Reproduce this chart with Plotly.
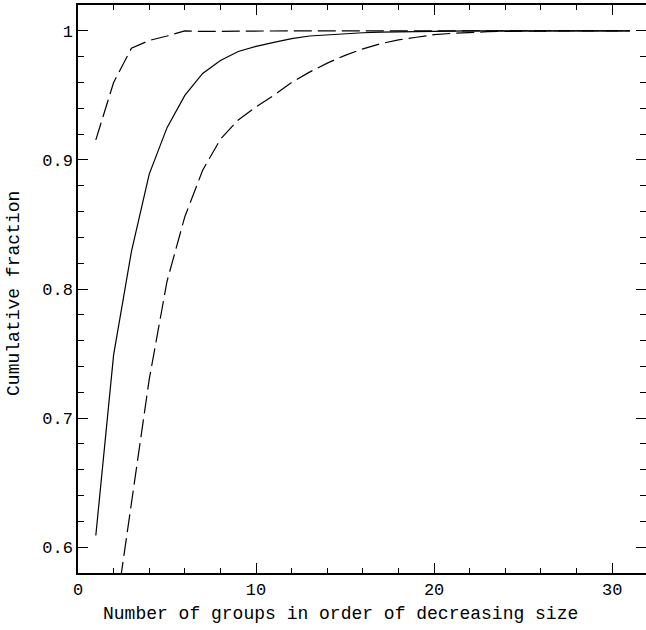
import plotly.graph_objects as go

groups = list(range(1, 32))

solid_frac = [0.609, 0.749, 0.829, 0.889, 0.925, 0.950, 0.967, 0.977, 0.984, 0.988,
              0.991, 0.994, 0.996, 0.997, 0.998, 0.9985, 0.999, 0.9993, 0.9995, 0.9997,
              0.9998, 0.9999, 0.9999, 1.0, 1.0, 1.0, 1.0, 1.0, 1.0, 1.0, 1.0]

upper_frac = [0.9155, 0.960, 0.9865, 0.9925, 0.996, 1.0, 0.9995, 0.9997, 1.0, 1.0,
              1.0, 1.0, 1.0, 1.0, 1.0, 1.0, 1.0, 1.0, 1.0, 1.0,
              1.0, 1.0, 1.0, 1.0, 1.0, 1.0, 1.0, 1.0, 1.0, 1.0, 1.0]

lower_groups = list(range(2, 32))
lower_frac = [0.538, 0.634, 0.730, 0.806, 0.856, 0.892, 0.916, 0.931, 0.941,
              0.950, 0.960, 0.968, 0.975, 0.981, 0.986, 0.990, 0.993, 0.995, 0.997,
              0.998, 0.9988, 0.9993, 0.9996, 0.9998, 1.0, 1.0, 1.0, 1.0, 1.0, 1.0]

y_ticks = [0.6, 0.7, 0.8, 0.9, 1.0]
y_labels = ["0.6", "0.7", "0.8", "0.9", "1"]
x_ticks = [0, 10, 20, 30]
x_labels = ["0", "10", "20", "30"]

x_title = "Number of groups in order of decreasing size"
y_title = "Cumulative fraction"

font_family = "Liberation Mono"

fig = go.Figure()
fig.add_trace(go.Scatter(x=groups, y=solid_frac, mode="lines",
                         line=dict(color="black", width=1.2), showlegend=False))
fig.add_trace(go.Scatter(x=groups, y=upper_frac, mode="lines",
                         line=dict(color="black", width=1.2, dash="18px,6px"), showlegend=False))
fig.add_trace(go.Scatter(x=lower_groups, y=lower_frac, mode="lines",
                         line=dict(color="black", width=1.2, dash="18px,6px"), showlegend=False))

axis_common = dict(showgrid=False, zeroline=False, showline=True, linecolor="black",
                   linewidth=1.5, mirror="allticks", ticks="inside", tickcolor="black",
                   tickwidth=1, ticklen=10, automargin=False,
                   tickfont=dict(family=font_family, size=17, color="black"))

fig.update_xaxes(range=[0, 31.9], tickvals=x_ticks, ticktext=x_labels,
                 minor=dict(dtick=2, tick0=0, ticks="inside", ticklen=5, tickcolor="black", tickwidth=1),
                 **axis_common)
fig.update_yaxes(range=[0.58, 1.02], tickvals=y_ticks, ticktext=y_labels,
                 minor=dict(dtick=0.02, tick0=0.6, ticks="inside", ticklen=6, tickcolor="black", tickwidth=1),
                 **axis_common)

fig.add_annotation(text=x_title, xref="paper", yref="paper", x=0.4613, y=-0.0722,
                   xanchor="center", yanchor="middle", showarrow=False,
                   font=dict(family=font_family, size=18, color="black"))
fig.add_annotation(text=y_title, xref="paper", yref="paper", x=-0.1127, y=0.493,
                   xanchor="center", yanchor="middle", textangle=-90, showarrow=False,
                   font=dict(family=font_family, size=18, color="black"))

fig.update_layout(width=646, height=630,
                  margin=dict(l=78, r=0, t=5, b=57, autoexpand=False),
                  paper_bgcolor="white", plot_bgcolor="white")

fig.write_html("out.html")
